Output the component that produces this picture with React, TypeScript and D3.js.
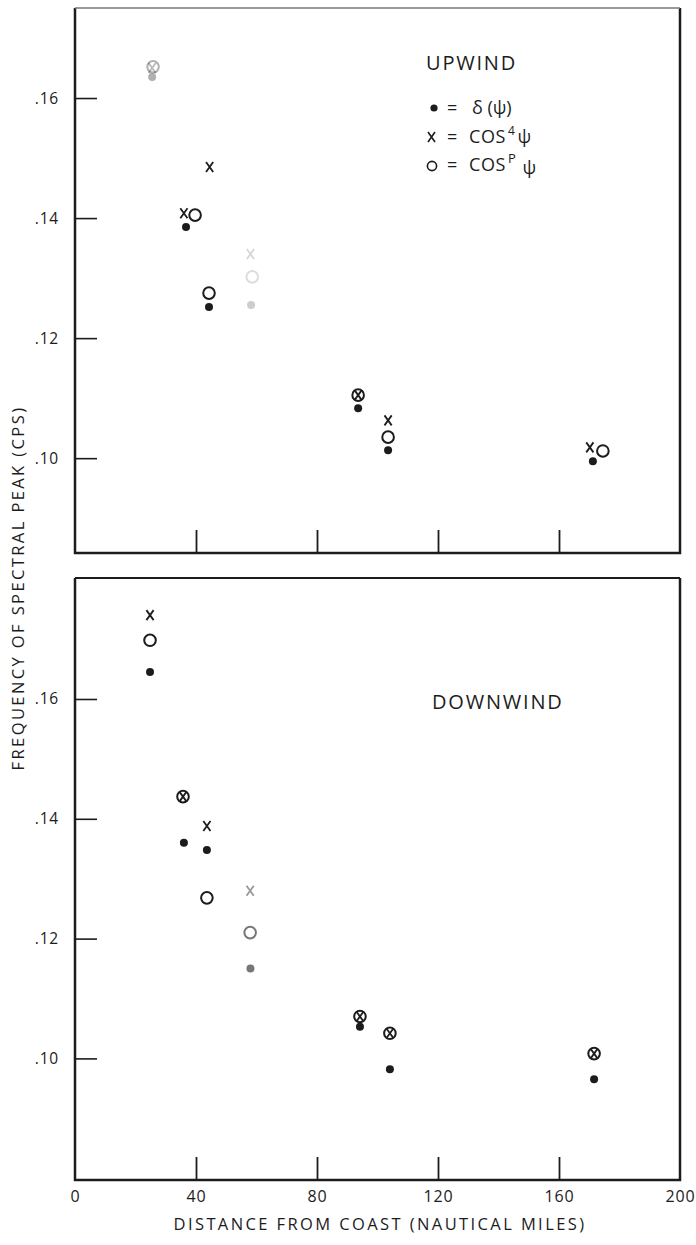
import React, { useEffect, useRef } from 'react'
import * as d3 from 'd3'

// axis ticks
const xTickValues = [0, 40, 80, 120, 160, 200]
const xInnerTicks = [40, 80, 120, 160]
const yTickValues = [0.1, 0.12, 0.14, 0.16]

// UPWIND panel (distance in nautical miles, frequency in cps)
const upDotDist = [25.5, 36.7, 44.3, 58.2, 93.6, 103.5, 171.2]
const upDotFreq = [0.1635, 0.1385, 0.1252, 0.1255, 0.1083, 0.1013, 0.0995]
const upCrossDist = [25.5, 36.0, 44.5, 58.0, 93.6, 103.5, 170.2]
const upCrossFreq = [0.165, 0.1408, 0.1485, 0.134, 0.1105, 0.1063, 0.1018]
const upCircleDist = [25.8, 39.7, 44.3, 58.6, 93.6, 103.5, 174.5]
const upCircleFreq = [0.1652, 0.1405, 0.1275, 0.1302, 0.1105, 0.1035, 0.1012]
const upFaded = [0, 3] // poorly printed points in the scan

// DOWNWIND panel
const downDotDist = [24.8, 36.0, 43.6, 58.0, 94.2, 104.1, 171.6]
const downDotFreq = [0.1645, 0.136, 0.1348, 0.115, 0.1053, 0.0982, 0.0965]
const downCrossDist = [24.8, 35.7, 43.6, 57.9, 94.2, 104.1, 171.6]
const downCrossFreq = [0.174, 0.1437, 0.1388, 0.128, 0.107, 0.1042, 0.1008]
const downCircleDist = [24.8, 35.7, 43.6, 57.9, 94.2, 104.1, 171.6]
const downCircleFreq = [0.1698, 0.1437, 0.1268, 0.121, 0.107, 0.1042, 0.1008]
const downFaded = [3]

const FONT = '"Open Sans", "DejaVu Sans", sans-serif'
const INK = '#1c1c1c'

type Panel = {
  top: number
  bottom: number
  yDomain: [number, number]
  dots: [number[], number[]]
  crosses: [number[], number[]]
  circles: [number[], number[]]
  faded: number[]
  fadeOpacity: number[][] // per faded point: [dot, cross, circle]
  showXLabels: boolean
}

function App() {
  const svgRef = useRef<SVGSVGElement>(null)

  useEffect(() => {
    const svg = d3.select(svgRef.current)
    svg.selectAll('*').remove()

    const x = d3.scaleLinear().domain([0, 200]).range([75, 680])

    const panels: Panel[] = [
      {
        top: 8,
        bottom: 553,
        yDomain: [0.0842, 0.175],
        dots: [upDotDist, upDotFreq],
        crosses: [upCrossDist, upCrossFreq],
        circles: [upCircleDist, upCircleFreq],
        faded: upFaded,
        fadeOpacity: [[0.35, 0.3, 0.35], [0.22, 0.18, 0.15]],
        showXLabels: false,
      },
      {
        top: 578,
        bottom: 1180,
        yDomain: [0.0797, 0.1802],
        dots: [downDotDist, downDotFreq],
        crosses: [downCrossDist, downCrossFreq],
        circles: [downCircleDist, downCircleFreq],
        faded: downFaded,
        fadeOpacity: [[0.6, 0.45, 0.6]],
        showXLabels: true,
      },
    ]

    panels.forEach((p) => {
      const y = d3.scaleLinear().domain(p.yDomain).range([p.bottom, p.top])
      const g = svg.append('g')

      // frame
      const [x0, x1] = x.range()
      g.append('path')
        .attr('d', `M${x0},${p.top}L${x0},${p.bottom}L${x1},${p.bottom}L${x1},${p.top}`)
        .attr('fill', 'none')
        .attr('stroke', INK)
        .attr('stroke-width', 2.5)
      g.append('line')
        .attr('x1', x0).attr('x2', x1)
        .attr('y1', p.top).attr('y2', p.top)
        .attr('stroke', p.showXLabels ? INK : '#777')
        .attr('stroke-width', p.showXLabels ? 2.2 : 1.3)

      // y axis (ticks point inward)
      const yAxis = g.append('g')
        .attr('transform', `translate(${x0},0)`)
        .call(
          d3.axisLeft(y)
            .tickValues(yTickValues)
            .tickSize(-22)
            .tickPadding(16)
            .tickFormat((d) => d3.format('.2f')(d as number).replace(/^0/, ''))
        )
      yAxis.select('.domain').remove()
      yAxis.selectAll('line').attr('stroke', INK).attr('stroke-width', 1.6)
      yAxis.selectAll('text')
        .attr('font-family', FONT)
        .attr('font-size', 15.5)
        .attr('letter-spacing', 0.8)
        .attr('fill', INK)

      // x ticks inward
      const xAxis = g.append('g')
        .attr('transform', `translate(0,${p.bottom})`)
        .call(d3.axisBottom(x).tickValues(xInnerTicks).tickSize(-23).tickFormat(() => ''))
      xAxis.select('.domain').remove()
      xAxis.selectAll('line').attr('stroke', INK).attr('stroke-width', 1.8)

      if (p.showXLabels) {
        const xl = g.append('g')
          .attr('transform', `translate(0,${p.bottom})`)
          .call(d3.axisBottom(x).tickValues(xTickValues).tickSize(0).tickPadding(11).tickFormat(d3.format('d')))
        xl.select('.domain').remove()
        xl.selectAll('text')
          .attr('font-family', FONT)
          .attr('font-size', 16)
          .attr('letter-spacing', 0.8)
          .attr('fill', INK)
      }

      const op = (i: number, k: number) => {
        const j = p.faded.indexOf(i)
        return j >= 0 ? p.fadeOpacity[j][k] : 1
      }

      // filled dots
      g.append('g')
        .selectAll('circle')
        .data(p.dots[0].map((d, i) => ({ d, v: p.dots[1][i], i })))
        .join('circle')
        .attr('cx', (e) => x(e.d))
        .attr('cy', (e) => y(e.v))
        .attr('r', 4)
        .attr('fill', INK)
        .attr('opacity', (e) => op(e.i, 0))

      // open circles
      g.append('g')
        .selectAll('circle')
        .data(p.circles[0].map((d, i) => ({ d, v: p.circles[1][i], i })))
        .join('circle')
        .attr('cx', (e) => x(e.d))
        .attr('cy', (e) => y(e.v))
        .attr('r', 5.8)
        .attr('fill', 'none')
        .attr('stroke', INK)
        .attr('stroke-width', 2)
        .attr('opacity', (e) => op(e.i, 2))

      // crosses
      g.append('g')
        .selectAll('path')
        .data(p.crosses[0].map((d, i) => ({ d, v: p.crosses[1][i], i })))
        .join('path')
        .attr('d', (e) => {
          const cx = x(e.d)
          const cy = y(e.v)
          return `M${cx - 3.6},${cy - 5}L${cx + 3.6},${cy + 5}M${cx + 3.6},${cy - 5}L${cx - 3.6},${cy + 5}`
        })
        .attr('stroke', INK)
        .attr('stroke-width', 1.8)
        .attr('fill', 'none')
        .attr('opacity', (e) => op(e.i, 1))
    })

    // panel titles
    svg.append('text')
      .attr('x', 426).attr('y', 70)
      .attr('font-family', FONT).attr('font-size', 20).attr('letter-spacing', 1.8)
      .attr('fill', INK)
      .text('UPWIND')
    svg.append('text')
      .attr('x', 432).attr('y', 709)
      .attr('font-family', FONT).attr('font-size', 20).attr('letter-spacing', 1.8)
      .attr('fill', INK)
      .text('DOWNWIND')

    // legend
    const leg = svg.append('g').attr('font-family', FONT).attr('fill', INK).attr('font-size', 18)
    const rows = [108, 137, 165]
    leg.append('circle').attr('cx', 434).attr('cy', rows[0]).attr('r', 3.6).attr('fill', INK)
    leg.append('path')
      .attr('d', `M428,${rows[1] - 5}L435,${rows[1] + 5}M435,${rows[1] - 5}L428,${rows[1] + 5}`)
      .attr('stroke', INK).attr('stroke-width', 1.6)
    leg.append('circle').attr('cx', 432).attr('cy', rows[2] + 1).attr('r', 4.6)
      .attr('fill', 'none').attr('stroke', INK).attr('stroke-width', 1.6)
    rows.forEach((r) => {
      leg.append('text').attr('x', 447).attr('y', r + 6).text('=')
    })
    leg.append('text').attr('x', 472).attr('y', rows[0] + 6).text('δ (ψ)')
    const r2 = leg.append('text').attr('x', 469).attr('y', rows[1] + 6).attr('letter-spacing', 0.6)
    r2.append('tspan').text('COS')
    r2.append('tspan').attr('font-size', 12).attr('dy', -8).attr('dx', 2).text('4')
    r2.append('tspan').attr('dy', 8).attr('dx', 2).text('ψ')
    const r3 = leg.append('text').attr('x', 469).attr('y', rows[2] + 6).attr('letter-spacing', 0.6)
    r3.append('tspan').text('COS')
    r3.append('tspan').attr('font-size', 13).attr('dy', -8).attr('dx', 2).text('P')
    r3.append('tspan').attr('dy', 11).attr('dx', 6).text('ψ')

    // axis titles
    svg.append('text')
      .attr('transform', 'translate(24,588) rotate(-90)')
      .attr('text-anchor', 'middle')
      .attr('font-family', FONT).attr('font-size', 16.5).attr('letter-spacing', 2.4)
      .attr('fill', INK)
      .text('FREQUENCY OF SPECTRAL PEAK (CPS)')
    svg.append('text')
      .attr('x', 380).attr('y', 1230)
      .attr('text-anchor', 'middle')
      .attr('font-family', FONT).attr('font-size', 16.5).attr('letter-spacing', 2.4)
      .attr('fill', INK)
      .text('DISTANCE FROM COAST (NAUTICAL MILES)')
  }, [])

  return (
    <div style={{ position: 'absolute', left: 0, top: 0, background: '#fff' }}>
      <svg ref={svgRef} width={696} height={1245} style={{ display: 'block' }} />
    </div>
  )
}

export default App
